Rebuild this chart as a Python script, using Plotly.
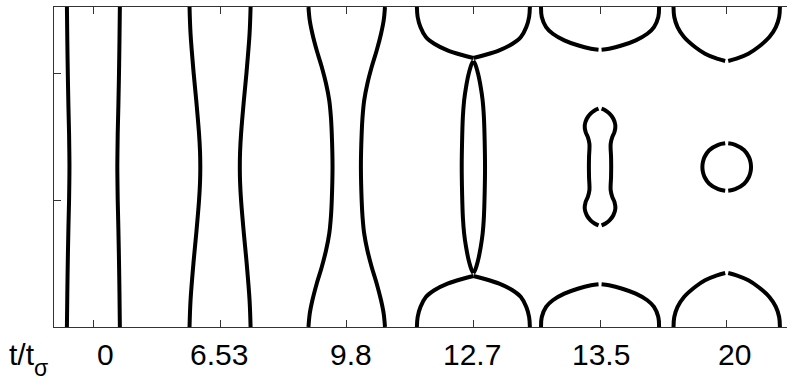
import plotly.graph_objects as go

# ---------------- data ----------------
# dimensionless times shown under each column
time_labels = ["0", "6.53", "9.8", "12.7", "13.5", "20"]
column_pos = [0, 1, 2, 3, 4, 5]          # x position (axis units) of each column axis
period = 2.526                            # height of the computational domain (axis units)

# Interface radius r versus distance z from the end wall (half period, mirrored about mid-plane)
# t = 0
jet0_z = [0.0, 0.26, 0.53, 0.79, 1.00, 1.145, 1.263]
jet0_r = [0.209, 0.206, 0.202, 0.197, 0.192, 0.190, 0.189]
# t = 6.53
jet1_z = [0.0, 0.211, 0.527, 0.737, 1.0, 1.145, 1.263]
jet1_r = [0.241, 0.233, 0.208, 0.188, 0.166, 0.158, 0.156]
# t = 9.8
jet2_z = [0.0, 0.105, 0.211, 0.342, 0.474, 0.606, 0.737, 0.868, 1.0, 1.263]
jet2_r = [0.302, 0.292, 0.271, 0.237, 0.197, 0.163, 0.138, 0.125, 0.118, 0.112]
# t = 12.7 : main drop (half at each wall) and elongated satellite
cap3_z = [0.0, 0.079, 0.158, 0.237, 0.290, 0.342, 0.381, 0.403]
cap3_r = [0.446, 0.440, 0.418, 0.375, 0.309, 0.204, 0.083, 0.0]
sat3_z = [0.426, 0.448, 0.527, 0.632, 0.737, 0.868, 1.052, 1.263]
sat3_r = [0.0, 0.013, 0.037, 0.058, 0.073, 0.083, 0.089, 0.092]
# t = 13.5
cap4_z = [0.0, 0.079, 0.158, 0.211, 0.263, 0.302, 0.329, 0.337]
cap4_r = [0.466, 0.460, 0.426, 0.373, 0.282, 0.176, 0.071, 0.012]
sat4_z = [0.803, 0.817, 0.842, 0.882, 0.934, 0.987, 1.026, 1.079, 1.184, 1.263]
sat4_r = [0.012, 0.043, 0.075, 0.105, 0.121, 0.114, 0.097, 0.084, 0.087, 0.088]
# t = 20
cap5_z = [0.0, 0.079, 0.158, 0.237, 0.316, 0.369, 0.408, 0.426]
cap5_r = [0.420, 0.414, 0.388, 0.337, 0.250, 0.171, 0.077, 0.012]
sat5_z = [1.076, 1.088, 1.131, 1.184, 1.224, 1.263]
sat5_r = [0.012, 0.067, 0.138, 0.175, 0.188, 0.192]

columns = [
    {"jet": (jet0_z, jet0_r)},
    {"jet": (jet1_z, jet1_r)},
    {"jet": (jet2_z, jet2_r)},
    {"cap": (cap3_z, cap3_r), "sat": (sat3_z, sat3_r)},
    {"cap": (cap4_z, cap4_r), "sat": (sat4_z, sat4_r)},
    {"cap": (cap5_z, cap5_r), "sat": (sat5_z, sat5_r)},
]

# ---------------- styling ----------------
LINE = dict(color="black", width=4, shape="spline", smoothing=1.0)
AX = "#333333"
FONT = "Liberation Sans, Arial, sans-serif"
label_xshift = [12, -1, 4, -1, 1, 8]

fig = go.Figure()


def mirrored(z, r):
    zz = list(z) + [period - v for v in reversed(z[:-1])]
    rr = list(r) + list(reversed(r[:-1]))
    return zz, rr


def add_curve(xs, ys):
    fig.add_trace(go.Scatter(x=xs, y=ys, mode="lines", line=LINE,
                             hoverinfo="skip", showlegend=False))


for c, col in zip(column_pos, columns):
    if "jet" in col:
        zz, rr = mirrored(*col["jet"])
        for s in (-1, 1):
            add_curve([c + s * v for v in rr], zz)
    if "cap" in col:
        z, r = col["cap"]
        for s in (-1, 1):
            add_curve([c + s * v for v in r], list(z))                 # bottom half-drop
            add_curve([c + s * v for v in r], [period - v for v in z])  # top half-drop
    if "sat" in col:
        zz, rr = mirrored(*col["sat"])
        for s in (-1, 1):
            add_curve([c + s * v for v in rr], zz)

annotations = []
for c, lab, dx in zip(column_pos, time_labels, label_xshift):
    annotations.append(dict(x=c, y=0, xref="x", yref="paper", text=lab,
                            showarrow=False, xanchor="center", yanchor="top",
                            xshift=dx, yshift=-9,
                            font=dict(family=FONT, size=30, color="black")))
annotations.append(dict(x=0, y=0, xref="paper", yref="paper", text="t/t",
                        showarrow=False, xanchor="left", yanchor="top",
                        xshift=-47, yshift=-9,
                        font=dict(family=FONT, size=30, color="black")))
annotations.append(dict(x=0, y=0, xref="paper", yref="paper", text="σ",
                        showarrow=False, xanchor="left", yanchor="top",
                        xshift=-21.5, yshift=-27, borderpad=0,
                        font=dict(family=FONT, size=23, color="black")))

fig.update_layout(
    width=787, height=382,
    margin=dict(l=54, r=0, t=7, b=55, pad=0),
    paper_bgcolor="white", plot_bgcolor="white",
    xaxis=dict(range=[-0.311, 5.476], tickvals=column_pos, showticklabels=False,
               ticks="inside", ticklen=7, tickcolor=AX, tickwidth=1,
               showline=True, linecolor=AX, linewidth=1, mirror="ticks",
               showgrid=False, zeroline=False, fixedrange=True),
    yaxis=dict(range=[0, period], tickvals=[1, 2], showticklabels=False,
               ticks="inside", ticklen=7, tickcolor=AX, tickwidth=1,
               showline=True, linecolor=AX, linewidth=1, mirror=False,
               showgrid=False, zeroline=False, fixedrange=True),
    annotations=annotations,
)

fig.write_html("out.html",
               config={"displayModeBar": False, "staticPlot": True},
               post_script="document.body.style.margin='0';"
                           "document.body.style.overflow='hidden';")
